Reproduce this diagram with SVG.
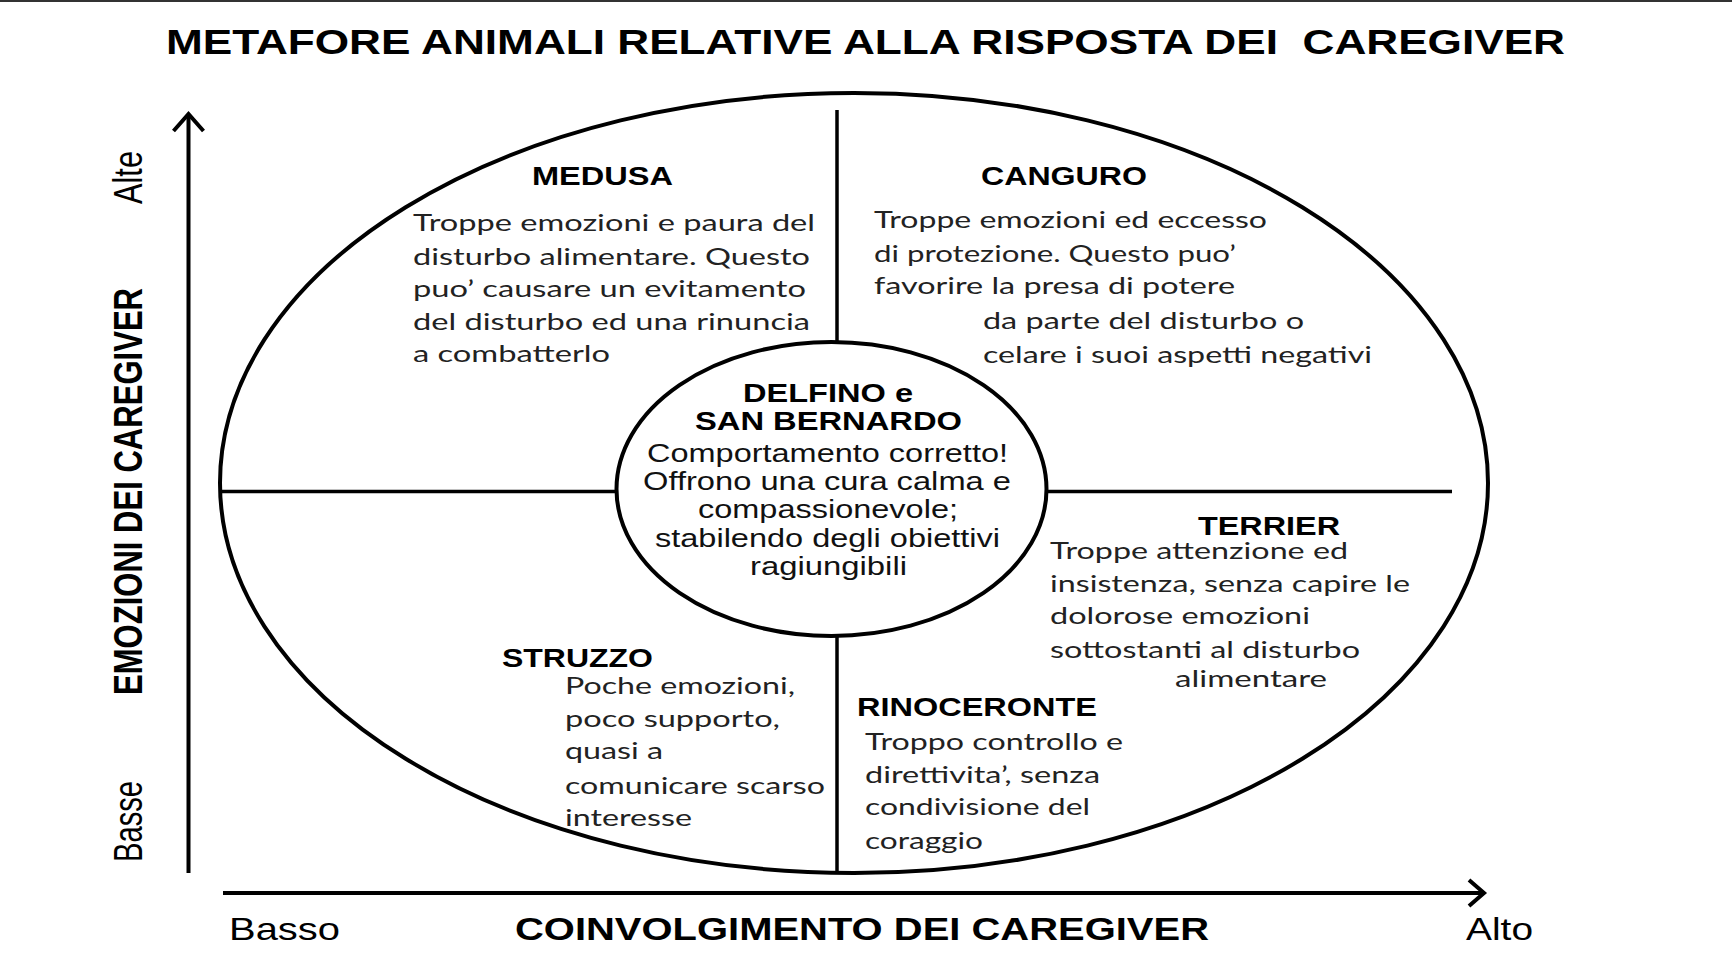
<svg xmlns="http://www.w3.org/2000/svg" width="1732" height="979" viewBox="0 0 1732 979">
<style>
.hd{font-family:"Liberation Sans",Arial,sans-serif;font-weight:bold;font-size:25px;fill:#000}
.bd{font-family:Lato,"Open Sans",sans-serif;font-size:23px;fill:#222}
.ct{font-family:"Liberation Sans",Arial,sans-serif;font-size:25px;fill:#111}
.ax{font-family:"Liberation Sans",Arial,sans-serif;fill:#000}
.ln{fill:none;stroke:#000;stroke-width:4}
.dv{fill:none;stroke:#000;stroke-width:3.5}
</style>
<rect x="0" y="0" width="1732" height="979" fill="#fff"/>
<rect x="0" y="0" width="1732" height="2" fill="#333"/>

<g id="title">
<text class="ax" x="166" y="54" font-size="35" font-weight="bold" textLength="1399" lengthAdjust="spacingAndGlyphs" xml:space="preserve">METAFORE ANIMALI RELATIVE ALLA RISPOSTA DEI  CAREGIVER</text>
</g>

<g id="connectors">
<line class="ln" x1="188.5" y1="873" x2="188.5" y2="115"/>
<polyline class="ln" points="173.5,131 188.5,114 203.5,131"/>
<line class="ln" x1="223" y1="893" x2="1482" y2="893"/>
<polyline class="ln" points="1469,880 1484,893 1469,906"/>
</g>

<g id="frame">
<ellipse class="ln" cx="854" cy="483" rx="634" ry="390"/>
<line class="dv" x1="837" y1="110" x2="837" y2="342"/>
<line class="dv" x1="837" y1="636" x2="837" y2="873"/>
<line class="dv" x1="220" y1="491.5" x2="617" y2="491.5"/>
<line class="dv" x1="1046" y1="491.5" x2="1452" y2="491.5"/>
</g>

<g id="axis-y-labels">
<text class="ax" font-size="40" transform="translate(141.5,204) rotate(-90)" textLength="53" lengthAdjust="spacingAndGlyphs">Alte</text>
<text class="ax" font-size="40" font-weight="bold" transform="translate(141.5,695) rotate(-90)" textLength="407" lengthAdjust="spacingAndGlyphs">EMOZIONI DEI CAREGIVER</text>
<text class="ax" font-size="40" transform="translate(141.5,862) rotate(-90)" textLength="81" lengthAdjust="spacingAndGlyphs">Basse</text>
</g>

<g id="axis-x-labels">
<text class="ax" font-size="32" x="229" y="940" textLength="111" lengthAdjust="spacingAndGlyphs">Basso</text>
<text class="ax" font-size="32" font-weight="bold" x="515" y="940" textLength="694" lengthAdjust="spacingAndGlyphs">COINVOLGIMENTO DEI CAREGIVER</text>
<text class="ax" font-size="32" x="1466" y="940" textLength="67" lengthAdjust="spacingAndGlyphs">Alto</text>
</g>

<g id="medusa">
<text class="hd" x="532" y="185" textLength="141" lengthAdjust="spacingAndGlyphs">MEDUSA</text>
<text class="bd" x="413" y="231" textLength="402" lengthAdjust="spacingAndGlyphs">Troppe emozioni e paura del</text>
<text class="bd" x="413" y="264.5" textLength="397" lengthAdjust="spacingAndGlyphs">disturbo alimentare. Questo</text>
<text class="bd" x="413" y="297" textLength="393" lengthAdjust="spacingAndGlyphs">puo’ causare un evitamento</text>
<text class="bd" x="413" y="330" textLength="397" lengthAdjust="spacingAndGlyphs">del disturbo ed una rinuncia</text>
<text class="bd" x="413" y="362" textLength="197" lengthAdjust="spacingAndGlyphs">a combatterlo</text>
</g>

<g id="canguro">
<text class="hd" x="981" y="185" textLength="166" lengthAdjust="spacingAndGlyphs">CANGURO</text>
<text class="bd" x="874" y="228" textLength="393" lengthAdjust="spacingAndGlyphs">Troppe emozioni ed eccesso</text>
<text class="bd" x="874" y="261.5" textLength="362" lengthAdjust="spacingAndGlyphs">di protezione. Questo puo’</text>
<text class="bd" x="874" y="293.5" textLength="361" lengthAdjust="spacingAndGlyphs">favorire la presa di potere</text>
<text class="bd" x="983" y="328.5" textLength="321" lengthAdjust="spacingAndGlyphs">da parte del disturbo o</text>
<text class="bd" x="983" y="363" textLength="389" lengthAdjust="spacingAndGlyphs">celare i suoi aspetti negativi</text>
</g>

<g id="delfino">
<ellipse class="ln" cx="831.5" cy="489" rx="215" ry="147" fill="#fff"/>
<text class="hd" font-size="24" x="743" y="401.5" textLength="170" lengthAdjust="spacingAndGlyphs">DELFINO e</text>
<text class="hd" font-size="24" x="695" y="430" textLength="267" lengthAdjust="spacingAndGlyphs">SAN BERNARDO</text>
<text class="ct" x="647" y="461.5" textLength="361" lengthAdjust="spacingAndGlyphs">Comportamento corretto!</text>
<text class="ct" x="643" y="490" textLength="368" lengthAdjust="spacingAndGlyphs">Offrono una cura calma e</text>
<text class="ct" x="698" y="518" textLength="260" lengthAdjust="spacingAndGlyphs">compassionevole;</text>
<text class="ct" x="655" y="546.5" textLength="345" lengthAdjust="spacingAndGlyphs">stabilendo degli obiettivi</text>
<text class="ct" x="750" y="575" textLength="157" lengthAdjust="spacingAndGlyphs">ragiungibili</text>
</g>

<g id="terrier">
<text class="hd" x="1198" y="535" textLength="142" lengthAdjust="spacingAndGlyphs">TERRIER</text>
<text class="bd" x="1050" y="558.5" textLength="298" lengthAdjust="spacingAndGlyphs">Troppe attenzione ed</text>
<text class="bd" x="1050" y="591.5" textLength="360" lengthAdjust="spacingAndGlyphs">insistenza, senza capire le</text>
<text class="bd" x="1050" y="623.5" textLength="260" lengthAdjust="spacingAndGlyphs">dolorose emozioni</text>
<text class="bd" x="1050" y="657.5" textLength="310" lengthAdjust="spacingAndGlyphs">sottostanti al disturbo</text>
<text class="bd" x="1175" y="687" textLength="152" lengthAdjust="spacingAndGlyphs">alimentare</text>
</g>

<g id="struzzo">
<text class="hd" x="502" y="666.5" textLength="151" lengthAdjust="spacingAndGlyphs">STRUZZO</text>
<text class="bd" x="565" y="693.5" textLength="230" lengthAdjust="spacingAndGlyphs">Poche emozioni,</text>
<text class="bd" x="565" y="726.5" textLength="215" lengthAdjust="spacingAndGlyphs">poco supporto,</text>
<text class="bd" x="565" y="758.5" textLength="98" lengthAdjust="spacingAndGlyphs">quasi a</text>
<text class="bd" x="565" y="794" textLength="260" lengthAdjust="spacingAndGlyphs">comunicare scarso</text>
<text class="bd" x="565" y="825.5" textLength="127" lengthAdjust="spacingAndGlyphs">interesse</text>
</g>

<g id="rinoceronte">
<text class="hd" x="857" y="716" textLength="240" lengthAdjust="spacingAndGlyphs">RINOCERONTE</text>
<text class="bd" x="865" y="750" textLength="258" lengthAdjust="spacingAndGlyphs">Troppo controllo e</text>
<text class="bd" x="865" y="782.5" textLength="235" lengthAdjust="spacingAndGlyphs">direttivita’, senza</text>
<text class="bd" x="865" y="815" textLength="225" lengthAdjust="spacingAndGlyphs">condivisione del</text>
<text class="bd" x="865" y="849" textLength="118" lengthAdjust="spacingAndGlyphs">coraggio</text>
</g>
</svg>
